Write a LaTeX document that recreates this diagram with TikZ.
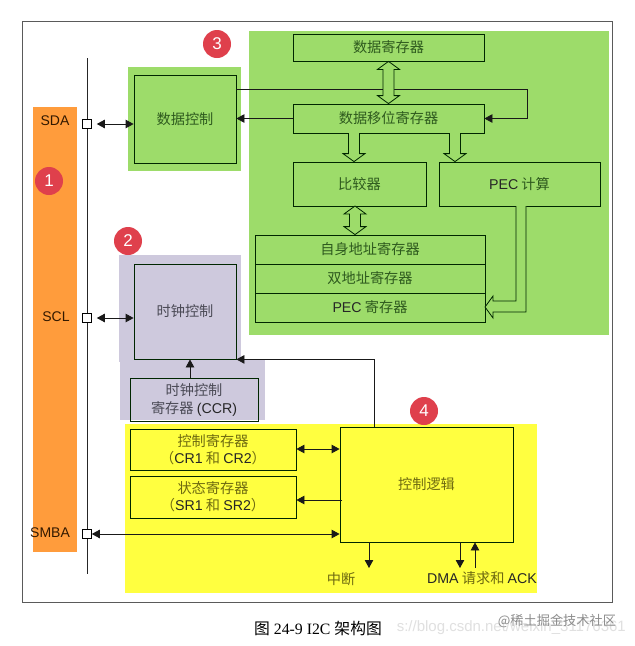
\documentclass[tikz,border=0pt]{standalone}
\usepackage{fontspec}
\setmainfont{Liberation Sans}
\newfontfamily\cjk{Noto Sans CJK SC}
\newfontfamily\capserif{Liberation Serif}
\usetikzlibrary{arrows.meta,calc}
\definecolor{orangebg}{HTML}{FF9C3C}
\definecolor{greenbg}{HTML}{9DDC6A}
\definecolor{lavbg}{HTML}{CEC9DD}
\definecolor{yellowbg}{HTML}{FFFF40}
\definecolor{badge}{HTML}{DF404C}
\definecolor{grntxt}{HTML}{2E5A1E}
\definecolor{yeltxt}{HTML}{6E6A10}
\definecolor{lavtxt}{HTML}{4A4A55}
\definecolor{frame}{HTML}{5A5A5A}
\newcommand{\lat}[1]{{\fontspec{Liberation Sans}\color{black!85}#1}}
\tikzset{
  x=1pt,y=-1pt,
  txt/.style={font=\fontsize{14.2}{17}\selectfont\cjk,align=center,inner sep=0pt},
  boxg/.style={draw=black!85!green,line width=.8pt,inner sep=0pt,text=grntxt,font=\fontsize{14.2}{17}\selectfont\cjk,align=center},
  boxl/.style={boxg,text=lavtxt,font=\fontsize{14.2}{18}\selectfont\cjk},
  boxy/.style={boxg,text=yeltxt,font=\fontsize{14.2}{17}\selectfont\cjk},
  pad/.style={inner sep=0pt,fill=white,draw=black,line width=.6pt,minimum size=9pt},
  pinlab/.style={font=\fontsize{14}{14}\selectfont,text=black!80!orange,inner sep=0pt},
  badgec/.style={circle,fill=badge,text=white,inner sep=0pt,minimum size=28pt,font=\fontsize{17}{17}\selectfont},
  bus/.style={line width=1pt,draw=black!85},
  wire/.style={line width=.8pt,draw=black!90},
  tip/.tip={Triangle[length=8pt,width=8.5pt]},
  arr/.style={wire,-{tip}},
  darr/.style={wire,{tip}-{tip}},
  hol/.style={line width=.8pt,draw=black!85!green,fill=greenbg,line join=miter},
}
\newcommand{\rbox}[7]{%
  \node[#1,minimum width={(#5)-(#3)},minimum height={(#6)-(#4)}] (#2) at ({((#3)+(#5))/2},{((#4)+(#6))/2}) {#7};}
% hollow single arrow going down from #1 to #2
\newcommand{\hdown}[2]{%
  \fill[greenbg] ($(#1)+(-5.5,0)$) rectangle ($(#2)+(5.5,-8)$);
  \draw[hol] ($(#1)+(-5.5,0)$) -- ($(#2)+(-5.5,-8)$) -- ($(#2)+(-11,-8)$) -- (#2) -- ($(#2)+(11,-8)$) -- ($(#2)+(5.5,-8)$) -- ($(#1)+(5.5,0)$);}
% hollow double-headed vertical arrow between #1 (top) and #2 (bottom)
\newcommand{\hboth}[2]{%
  \draw[hol] (#1) -- ($(#1)+(11,8)$) -- ($(#1)+(5.5,8)$) -- ($(#2)+(5.5,-8)$) -- ($(#2)+(11,-8)$) -- (#2) -- ($(#2)+(-11,-8)$) -- ($(#2)+(-5.5,-8)$) -- ($(#1)+(-5.5,8)$) -- ($(#1)+(-11,8)$) -- cycle;}
\begin{document}
\begin{tikzpicture}
\useasboundingbox[fill=white] (0,0) rectangle (635,646);
\draw[frame,line width=1pt] (22,21) rectangle (612,602);
% backgrounds
\fill[orangebg] (33,107) rectangle (77,552);
\fill[greenbg] (128,67) rectangle (241,171);
\fill[greenbg] (249,31) rectangle (609,335);
\fill[lavbg] (119,255) rectangle (241,362);
\fill[lavbg] (120,359) rectangle (265,420);
\fill[yellowbg] (125,424) rectangle (537,593);
% bus
\coordinate (bustop) at (87,58);
\coordinate (busbot) at (87,574);
\draw[bus] (bustop) -- (busbot);
\node[pad] (sda) at (87,124) {};
\node[pad] (scl) at (87,318) {};
\node[pad] (smba) at (87,534) {};
% pin labels
\node[pinlab] (lsda) at (55,121) {SDA};
\node[pinlab] (lscl) at (56,317) {SCL};
\node[pinlab] (lsmba) at (50,533) {SMBA};
% boxes
\rbox{boxg}{dc}{134}{75}{236}{163}{数据控制}
\rbox{boxg}{dr}{293}{34}{484}{61}{数据寄存器}
\rbox{boxg}{sr}{293}{104}{484}{133}{数据移位寄存器}
\rbox{boxg}{cmp}{293}{162}{426}{206}{比较器}
\rbox{boxg}{pecc}{439}{162}{600}{206}{\lat{PEC} 计算}
\rbox{boxg}{oar}{255}{235}{485}{264}{自身地址寄存器}
\rbox{boxg}{dar}{255}{264}{485}{293}{双地址寄存器}
\rbox{boxg}{pecr}{255}{293}{485}{322}{\lat{PEC} 寄存器}
\rbox{boxl}{cc}{134}{264}{236}{359}{时钟控制}
\rbox{boxl}{ccr}{130}{378}{258}{421}{时钟控制\\寄存器 \lat{(CCR)}}
\rbox{boxy}{cr}{130}{429}{296}{470}{控制寄存器\\（\lat{CR1} 和 \lat{CR2}）}
\rbox{boxy}{st}{130}{476}{296}{518}{状态寄存器\\（\lat{SR1} 和 \lat{SR2}）}
\rbox{boxy}{cl}{340}{427}{513}{542}{控制逻辑}
% connectors
\coordinate (feed) at (527,89);
\draw[arr] (dc.east|-feed) -- (feed) |- (sr.east);
\draw[arr] (sr.west) -- (dc.east|-sr.west);
\draw[darr] ([xshift=5pt]sda.east) -- (dc.west|-sda.east);
\draw[darr] ([xshift=5pt]scl.east) -- (cc.west|-scl.east);
\draw[darr] (smba.east) -- (cl.west|-smba.east);
\coordinate (ccrup) at (190,378);
\draw[arr] (ccrup) -- (ccrup|-cc.south);
\coordinate (clup) at (374,427);
\draw[arr] (clup) |- (cc.south east);
\coordinate (crw) at (339,449);
\draw[darr] (cr.east|-crw) -- (cl.west|-crw);
\coordinate (stw) at (342,500);
\draw[arr] (stw) -- (st.east|-stw);
\coordinate (intd) at (369,568);
\draw[arr] (intd|-cl.south) -- (intd);
\coordinate (dmad) at (460,568);
\draw[arr] (dmad|-cl.south) -- (dmad);
\coordinate (acku) at (475,568);
\draw[arr] (acku) -- (acku|-cl.south);
% hollow bus arrows
\hboth{dr.south}{dr.south|-sr.north}
\coordinate (h1) at (354,133);
\hdown{h1}{h1|-cmp.north}
\coordinate (h2) at (455,133);
\hdown{h2}{h2|-pecc.north}
\coordinate (h3) at (355,206);
\hboth{h3}{h3|-oar.north}
\coordinate (h4) at (521,206);
\coordinate (h5) at (485,307);
\fill[greenbg] ($(h4)+(-5,0)$) -- ($(h4)+(5,0)$) -- (526,312) -- (516,301) -- cycle;
\draw[hol] ($(h4)+(-5,0)$) -- (516,301) -- (493,301) -- (493,296) -- (h5) -- (493,318) -- (493,312) -- (526,312) -- ($(h4)+(5,0)$);
% labels
\node[txt,text=yeltxt] (lint) at (341,579) {中断};
\node[txt,text=yeltxt] (ldma) at (482,578) {\lat{DMA} 请求和 \lat{ACK}};
% badges
\node[badgec] (b1) at (49,181) {1};
\node[badgec] (b2) at (128,241) {2};
\node[badgec] (b3) at (217,44) {3};
\node[badgec] (b4) at (424,411) {4};
% caption and watermarks
\node[inner sep=0pt,anchor=east,text=black!12,font=\fontsize{15}{15}\selectfont] (wm1) at (626,628) {s://blog.csdn.net/weixin\_31176361};
\node[inner sep=0pt,text=black,font=\fontsize{15.8}{16}\selectfont\capserif] (cap) at (318,628) {{\cjk 图} 24-9 I2C {\cjk 架构图}};
\node[inner sep=0pt,text=black!45,font=\fontsize{13.2}{14}\selectfont\cjk] (wm2) at (557,621) {@稀土掘金技术社区};
\end{tikzpicture}
\end{document}
